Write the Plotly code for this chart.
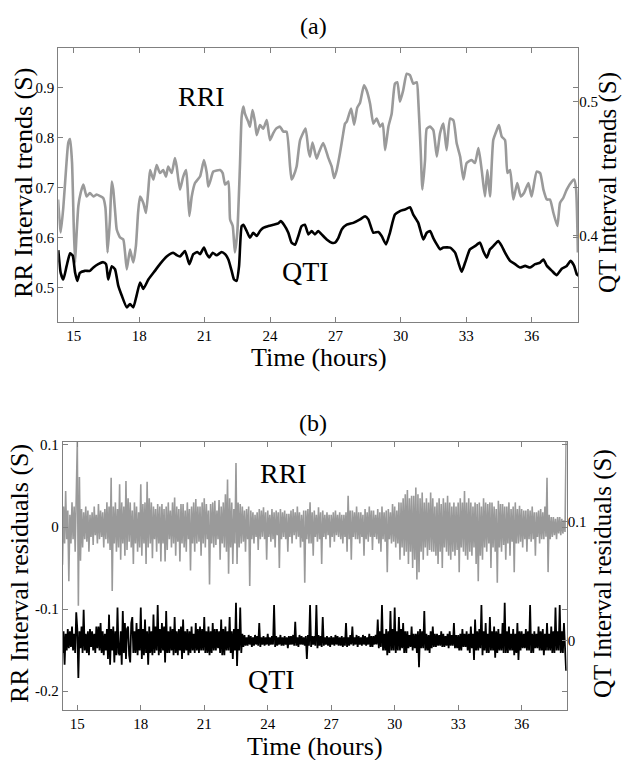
import plotly.graph_objects as go

# ---------------- Panel (a): trends ----------------
rri_trend_t = [14.28, 14.40, 14.52, 14.65, 14.75, 14.83, 14.92, 15.00, 15.06, 15.12, 15.21, 15.32, 15.44, 15.59,
               15.74, 15.90, 16.05, 16.20, 16.35, 16.45, 16.51, 16.55, 16.66, 16.74, 16.81, 16.90, 16.97, 17.12,
               17.27, 17.35, 17.43, 17.58, 17.65, 17.73, 17.85, 17.95, 18.04, 18.19, 18.31, 18.42, 18.50, 18.65,
               18.80, 18.95, 19.10, 19.23, 19.33, 19.49, 19.64, 19.72, 19.87, 20.02, 20.15, 20.22, 20.30, 20.41,
               20.56, 20.79, 20.97, 21.10, 21.17, 21.28, 21.40, 21.71, 21.83, 21.94, 22.09, 22.17, 22.29, 22.39,
               22.50, 22.62, 22.70, 22.78, 22.85, 23.00, 23.08, 23.20, 23.31, 23.39, 23.54, 23.69, 23.85, 24.00,
               24.15, 24.28, 24.46, 24.61, 24.76, 24.92, 24.99, 25.07, 25.22, 25.38, 25.63, 25.76, 25.83, 25.95,
               26.14, 26.26, 26.44, 26.67, 26.83, 26.94, 27.06, 27.21, 27.36, 27.44, 27.52, 27.72, 27.86, 28.00,
               28.13, 28.31, 28.43, 28.59, 28.74, 28.89, 29.05, 29.17, 29.28, 29.43, 29.58, 29.73, 29.84, 29.96,
               30.11, 30.27, 30.42, 30.57, 30.73, 30.80, 30.91, 30.99, 31.11, 31.19, 31.34, 31.49, 31.65, 31.80,
               31.95, 32.10, 32.26, 32.41, 32.56, 32.72, 32.87, 33.02, 33.25, 33.40, 33.56, 33.71, 33.86, 33.97,
               34.09, 34.24, 34.40, 34.50, 34.63, 34.78, 34.89, 35.01, 35.16, 35.34, 35.50, 35.65, 35.85, 36.00,
               36.23, 36.39, 36.54, 36.70, 36.84, 37.00, 37.18, 37.30, 37.45, 37.61, 37.84, 37.95, 38.04, 38.12]
rri_trend_v = [0.676, 0.610, 0.660, 0.740, 0.790, 0.797, 0.750, 0.620, 0.550, 0.600, 0.663, 0.690, 0.706, 0.682,
               0.689, 0.682, 0.686, 0.683, 0.679, 0.660, 0.610, 0.570, 0.636, 0.712, 0.696, 0.650, 0.616, 0.600,
               0.596, 0.570, 0.536, 0.576, 0.563, 0.550, 0.583, 0.650, 0.682, 0.669, 0.649, 0.696, 0.735, 0.716,
               0.745, 0.729, 0.735, 0.722, 0.742, 0.729, 0.759, 0.742, 0.696, 0.722, 0.735, 0.700, 0.643, 0.682,
               0.709, 0.722, 0.755, 0.729, 0.702, 0.716, 0.732, 0.735, 0.729, 0.706, 0.712, 0.636, 0.623, 0.570,
               0.610, 0.742, 0.842, 0.862, 0.848, 0.832, 0.822, 0.855, 0.832, 0.805, 0.825, 0.818, 0.835, 0.795,
               0.809, 0.818, 0.822, 0.812, 0.812, 0.742, 0.716, 0.722, 0.742, 0.795, 0.818, 0.775, 0.762, 0.790,
               0.758, 0.772, 0.789, 0.760, 0.742, 0.719, 0.735, 0.769, 0.809, 0.828, 0.832, 0.858, 0.826, 0.860,
               0.870, 0.905, 0.895, 0.868, 0.828, 0.838, 0.822, 0.828, 0.775, 0.822, 0.848, 0.908, 0.911, 0.872,
               0.895, 0.928, 0.925, 0.908, 0.911, 0.875, 0.775, 0.696, 0.755, 0.818, 0.822, 0.815, 0.762, 0.809,
               0.828, 0.775, 0.838, 0.835, 0.789, 0.762, 0.716, 0.749, 0.755, 0.749, 0.779, 0.735, 0.682, 0.735,
               0.682, 0.795, 0.815, 0.825, 0.802, 0.795, 0.729, 0.735, 0.676, 0.709, 0.682, 0.689, 0.709, 0.682,
               0.732, 0.729, 0.696, 0.676, 0.676, 0.649, 0.623, 0.669, 0.679, 0.696, 0.712, 0.716, 0.696, 0.570]

qti_trend_t = [14.29, 14.40, 14.52, 14.67, 14.83, 14.95, 15.06, 15.16, 15.28, 15.51, 15.74, 15.90, 16.12, 16.35,
               16.48, 16.58, 16.74, 16.89, 17.04, 17.20, 17.43, 17.58, 17.73, 17.88, 18.04, 18.19, 18.42, 18.72,
               18.95, 19.26, 19.56, 19.72, 19.87, 20.10, 20.30, 20.48, 20.67, 20.79, 20.97, 21.10, 21.22, 21.37,
               21.55, 21.78, 21.94, 22.09, 22.24, 22.35, 22.47, 22.58, 22.70, 22.78, 22.93, 23.08, 23.23, 23.39,
               23.54, 23.69, 23.92, 24.15, 24.38, 24.49, 24.64, 24.84, 24.99, 25.15, 25.30, 25.45, 25.60, 25.76,
               25.91, 26.06, 26.21, 26.37, 26.60, 26.83, 26.98, 27.13, 27.29, 27.52, 27.82, 28.13, 28.36, 28.51,
               28.74, 28.97, 29.12, 29.32, 29.50, 29.73, 29.96, 30.19, 30.42, 30.57, 30.80, 31.03, 31.19, 31.34,
               31.49, 31.65, 31.80, 31.95, 32.26, 32.49, 32.64, 32.79, 32.95, 33.17, 33.40, 33.63, 33.78, 33.94,
               34.09, 34.24, 34.47, 34.63, 34.78, 35.01, 35.24, 35.47, 35.70, 35.93, 36.16, 36.39, 36.54, 36.70,
               36.93, 37.15, 37.38, 37.61, 37.79, 37.95, 38.07, 38.15]
qti_trend_v = [0.389, 0.372, 0.367, 0.377, 0.3866, 0.385, 0.3722, 0.366, 0.372, 0.3735, 0.3735, 0.376, 0.3785, 0.380,
               0.3785, 0.367, 0.377, 0.3747, 0.3624, 0.355, 0.3462, 0.3487, 0.3462, 0.355, 0.3648, 0.360, 0.367, 0.3735,
               0.3785, 0.3842, 0.3871, 0.3852, 0.3842, 0.3884, 0.3785, 0.386, 0.3876, 0.386, 0.3909, 0.386, 0.3835, 0.3871,
               0.3852, 0.3876, 0.386, 0.382, 0.3735, 0.367, 0.366, 0.377, 0.407, 0.408, 0.4033, 0.3983, 0.402, 0.3996,
               0.4033, 0.4057, 0.407, 0.408, 0.409, 0.4107, 0.408, 0.402, 0.3946, 0.393, 0.3996, 0.407, 0.408, 0.4008,
               0.4033, 0.4008, 0.4033, 0.4008, 0.397, 0.3946, 0.3946, 0.398, 0.4045, 0.408, 0.4094, 0.412, 0.4144, 0.412,
               0.402, 0.4026, 0.3996, 0.3933, 0.402, 0.4156, 0.4182, 0.4194, 0.4211, 0.4156, 0.4094, 0.397, 0.402, 0.4033,
               0.398, 0.3933, 0.3896, 0.3909, 0.3909, 0.3871, 0.3797, 0.3728, 0.3797, 0.3896, 0.392, 0.3946, 0.3884, 0.3834,
               0.3896, 0.392, 0.3958, 0.392, 0.3871, 0.381, 0.3785, 0.376, 0.3772, 0.376, 0.3785, 0.3797, 0.382, 0.3772,
               0.3735, 0.3703, 0.375, 0.3772, 0.381, 0.3772, 0.371, 0.3698]

# ---------------- Panel (b): residuals (ms), sampled every 0.05 h from 14.30 h ----------------
res_start_h = 14.3
res_step_h = 0.05
rri_res_ms = (
    [-46, 25, -20, 44, -15, 20, -66, 15, -20, 30, -15, 25, -30, 40] +
    [104, -96, 61, -41, 22, -25, 18, -15, 25, -18, 20, -30, 15, -12, 18, -22, 25, -10, 15, -20] +
    [28, -15, 20, -12, 18, -25, 22, -15, 30, -20, 25, -28, 60, -78, 25, -20, 30, -30, 22, -25] +
    [52, -40, 30, -20, 25, -35, 56, -28, 35, -18, 30, -25, 20, -45, 30, -20, 25, -30, 18, -25] +
    [52, -35, 28, -20, 30, -45, 55, -25, 35, -20, 30, -38, 25, -15, 22, -30, 28, -20, 25, -42] +
    [28, -20, 22, -42, 25, -28, 30, -15, 20, -25, 30, -20, 36, -35, 25, -18, 22, -42, 28, -20] +
    [28, -25, 20, -30, 30, -15, 22, -53, 25, -20, 30, -30, 34, -20, 25, -18, 25, -35, 30, -20] +
    [35, -25, 28, -15, 20, -70, 28, -20, 30, -25, 32, -22, 20, -15, 33, -40, 25, -20, 30, -25] +
    [40, -30, 58, -57, 35, -25, 30, -45, 22, -20, 78, -45, 30, -25, 28, -20, 25, -18, 20, -30] +
    [22, -15, 25, -72, 20, -15, 18, -20, 15, -12, 18, -28, 22, -15, 20, -12, 24, -15, 18, -40] +
    [20, -12, 15, -18, 22, -15, 18, -25, 20, -10, 18, -50, 22, -15, 18, -12, 20, -15, 16, -30] +
    [16, -12, 20, -20, 22, -10, 18, -15, 25, -12, 18, -25, 15, -18, 20, -68, 20, -15, 22, -20] +
    [30, -20, 18, -35, 20, -12, 15, -18, 24, -15, 18, -45, 20, -12, 15, -15, 18, -10, 15, -25] +
    [15, -12, 18, -18, 20, -10, 15, -12, 18, -15, 15, -20, 15, -12, 18, -30, 38, -15, 20, -40] +
    [20, -12, 18, -15, 25, -15, 18, -20, 18, -12, 15, -35, 22, -15, 18, -18, 25, -12, 20, -28] +
    [20, -12, 15, -15, 22, -20, 18, -30, 25, -15, 18, -18, 20, -55, 22, -15, 18, -20, 28, -18] +
    [25, -25, 20, -20, 30, -40, 30, -25, 35, -35, 40, -30, 45, -45, 35, -30, 38, -50, 38, -40] +
    [48, -64, 40, -55, 35, -30, 42, -40, 30, -25, 35, -35, 30, -28, 42, -30, 35, -30, 25, -35] +
    [30, -45, 35, -30, 28, -50, 35, -25, 30, -30, 38, -35, 30, -40, 25, -30, 30, -35, 25, -28] +
    [30, -55, 35, -25, 30, -30, 44, -35, 30, -40, 35, -30, 30, -35, 25, -25, 30, -45, 28, -66] +
    [30, -35, 25, -40, 35, -25, 30, -30, 28, -20, 30, -50, 30, -25, 25, -30, 22, -68, 32, -25] +
    [28, -30, 28, -22, 25, -40, 25, -20, 30, -35, 22, -18, 25, -55, 30, -20, 22, -20, 26, -18] +
    [22, -25, 20, -15, 20, -30, 22, -15, 20, -18, 25, -15, 18, -35, 18, -12, 20, -20, 22, -15] +
    [18, -15, 25, -12, 60, -55, 15, -15, 12, -12, 12, -10, 10, -15, 12, -8, 12, -10, 10, -8] +
    [8, -6, 104]
)
qti_res_ms = (
    [-10, 8, -20, 6, -8, 10, -6, 8, -5, 12, -8, 6, -10, 24] +
    [10, -31, 8, -6, 12, -10, 26, -8, 6, -10, 8, -12, 10, -5, 8, -8, 6, -10, 12, -6] +
    [12, -8, 15, -10, 8, -12, 6, -8, 10, -15, 22, -20, 10, -8, 12, -18, 8, -12, 28, -10] +
    [-12, 8, -20, 25, -10, 15, -15, 10, 12, -12, -18, 15, 20, -10, 8, -10, 15, -12, 10, -8] +
    [28, -15, 10, -12, 18, -10, 8, -20, 12, -10, 8, -12, 22, -10, 12, -8, 30, -12, 10, -10] +
    [15, -8, 12, -18, 25, -10, 8, -10, 12, -8, 10, -12, 20, -10, 8, -12, 10, -8, 12, -15] +
    [18, -10, 8, -8, 10, -12, 8, -10, 12, -8, 6, -10, 15, -8, 10, -10, 12, -8, 10, -8] +
    [20, -10, 8, -10, 12, -12, 8, -10, 15, -8, 10, -8, 10, -6, 8, -10, 18, -12, 10, -12] +
    [12, -8, 8, -8, 20, -10, 8, -15, 10, -8, 32, -21, 10, -8, 28, -10, 6, -5, 5, -4] +
    [3, -4, 5, -3, 4, -5, 3, -4, 5, -3, 4, -4, 15, -5, 3, -3, 4, -4, 3, -3] +
    [6, -4, 3, -3, 4, -3, 30, -5, 4, -4, 3, -3, 5, -4, 3, -4, 4, -3, 3, -6] +
    [4, -3, 4, -3, 5, -4, 16, -4, 3, -5, 5, -3, 4, -3, 3, -4, 4, -15, 5, -4] +
    [30, -5, 4, -3, 4, -4, 30, -6, 5, -4, 4, -5, 20, -4, 3, -3, 4, -4, 3, -5] +
    [4, -3, 3, -4, 5, -3, 4, -4, 3, -4, 4, -5, 3, -4, 15, -5, 3, -4, 5, -3] +
    [12, -4, 3, -3, 5, -5, 4, -3, 3, -4, 5, -3, 4, -4, 3, -3, 6, -5, 4, -5] +
    [4, -3, 5, -3, 18, -6, 8, -5, 30, -8, 6, -8, 10, -12, 8, -10, 25, -8, 10, -8] +
    [28, -10, 8, -8, 20, -8, 10, -6, 15, -10, 8, -10, 8, -6, 5, -5, 12, -8, 6, -6] +
    [6, -10, 8, -22, 10, -6, 8, -6, 25, -8, 6, -8, 5, -10, 8, -6, 12, -5, 6, -5] +
    [6, -4, 5, -4, 8, -5, 6, -5, 4, -4, 6, -6, 8, -4, 5, -4, 15, -6, 5, -6] +
    [5, -8, 6, -8, 10, -5, 6, -5, 8, -8, 6, -10, 12, -6, 6, -16, 18, -8, 8, -8] +
    [10, -6, 30, -12, 8, -8, 15, -10, 6, -10, 20, -8, 8, -8, 12, -14, 8, -10, 10, -8] +
    [6, -8, 15, -10, 32, -10, 8, -10, 12, -8, 6, -8, 10, -12, 6, -10, 15, -16, 8, -8] +
    [8, -6, 6, -6, 10, -8, 8, -8, 30, -10, 6, -10, 8, -6, 6, -6, 12, -8, 8, -8] +
    [10, -12, 6, -8, 15, -8, 6, -8, 12, -10, 8, -10, 28, -8, 8, -8, 30, -10, 8, -10] +
    [15, -10, -25]
)

time_ticks = [15, 18, 21, 24, 27, 30, 33, 36]
rr_trend_ticks = [0.5, 0.6, 0.7, 0.8, 0.9]
qt_trend_ticks = [0.4, 0.5]
rr_res_ticks = [-0.2, -0.1, 0, 0.1]
rr_res_ticktext = ["-0.2", "-0.1", "0", "0.1"]
qt_res_ticks = [0, 0.1]
qt_res_ticktext = ["0", "0.1"]

res_t = [round(res_start_h + res_step_h * i, 3) for i in range(len(rri_res_ms))]
rri_res = [v / 1000.0 for v in rri_res_ms]
qres_t = [round(res_start_h + res_step_h * i, 3) for i in range(len(qti_res_ms))]
qti_res = [v / 1000.0 for v in qti_res_ms]

GRAY = "#9a9a9a"
AXC = "#808080"
FONT = "Liberation Serif"
W, H = 622, 760

fig = go.Figure()
fig.add_trace(go.Scatter(x=rri_trend_t, y=rri_trend_v, mode="lines",
                         line=dict(color=GRAY, width=2.6, shape="spline", smoothing=0.5),
                         xaxis="x", yaxis="y", showlegend=False))
fig.add_trace(go.Scatter(x=qti_trend_t, y=qti_trend_v, mode="lines",
                         line=dict(color="black", width=2.6, shape="spline", smoothing=0.5),
                         xaxis="x", yaxis="y2", showlegend=False))
fig.add_trace(go.Scatter(x=res_t, y=rri_res, mode="lines", line=dict(color=GRAY, width=1.6),
                         xaxis="x2", yaxis="y3", showlegend=False))
fig.add_trace(go.Scatter(x=qres_t, y=qti_res, mode="lines", line=dict(color="black", width=1.8),
                         xaxis="x2", yaxis="y4", showlegend=False))

tickfont = dict(family=FONT, size=15, color="black")
common = dict(showgrid=False, zeroline=False, ticks="inside", ticklen=5, tickcolor=AXC,
              linecolor=AXC, linewidth=1, tickfont=tickfont)


def px_x(p):
    return p / W


def px_y(p):
    return 1 - p / H


fig.update_layout(
    width=W, height=H, margin=dict(l=0, r=0, t=0, b=0),
    plot_bgcolor="white", paper_bgcolor="white",
    xaxis=dict(domain=[px_x(58.3), px_x(578.3)], anchor="y", range=[14.29, 38.14],
               tickvals=time_ticks, showline=True, mirror="ticks", **common),
    yaxis=dict(domain=[px_y(320), px_y(44)], anchor="x", range=[0.430, 0.980],
               tickvals=rr_trend_ticks, ticktext=[str(v) for v in rr_trend_ticks],
               showline=True, mirror="ticks", **common),
    yaxis2=dict(overlaying="y", side="right", anchor="x", range=[0.335, 0.5404],
                tickvals=qt_trend_ticks, ticktext=[str(v) for v in qt_trend_ticks],
                showline=False, **common),
    xaxis2=dict(domain=[px_x(62.7), px_x(566.7)], anchor="y3", range=[14.31, 38.13],
                tickvals=time_ticks, showline=True, mirror="ticks", **common),
    yaxis3=dict(domain=[px_y(710), px_y(440)], anchor="x2", range=[-0.2234, 0.104],
                tickvals=rr_res_ticks, ticktext=rr_res_ticktext,
                showline=True, mirror="ticks", **common),
    yaxis4=dict(overlaying="y3", side="right", anchor="x2", range=[-0.058, 0.1667],
                tickvals=qt_res_ticks, ticktext=qt_res_ticktext,
                showline=False, **common),
)


def ann(text, x, y, size, angle=0):
    fig.add_annotation(text=text, x=px_x(x), y=px_y(y), xref="paper", yref="paper",
                       showarrow=False, textangle=angle, xanchor="center", yanchor="middle",
                       font=dict(family=FONT, size=size, color="black"))


ann("(a)", 313, 22, 24)
ann("(b)", 313, 421, 24)
ann("Time (hours)", 319, 355, 26)
ann("Time (hours)", 315, 746, 26)
ann("RR Interval trends (S)", 23, 180, 26, -90)
ann("QT Interval trends (S)", 608, 180, 25, -90)
ann("RR Interval residuals (S)", 20, 573, 26, -90)
ann("QT Interval residuals (S)", 603, 573, 25, -90)
ann("RRI", 201, 93, 28)
ann("QTI", 305, 269, 28)
ann("RRI", 283, 472, 28)
ann("QTI", 271, 679, 28)

fig.write_html("out.html")
